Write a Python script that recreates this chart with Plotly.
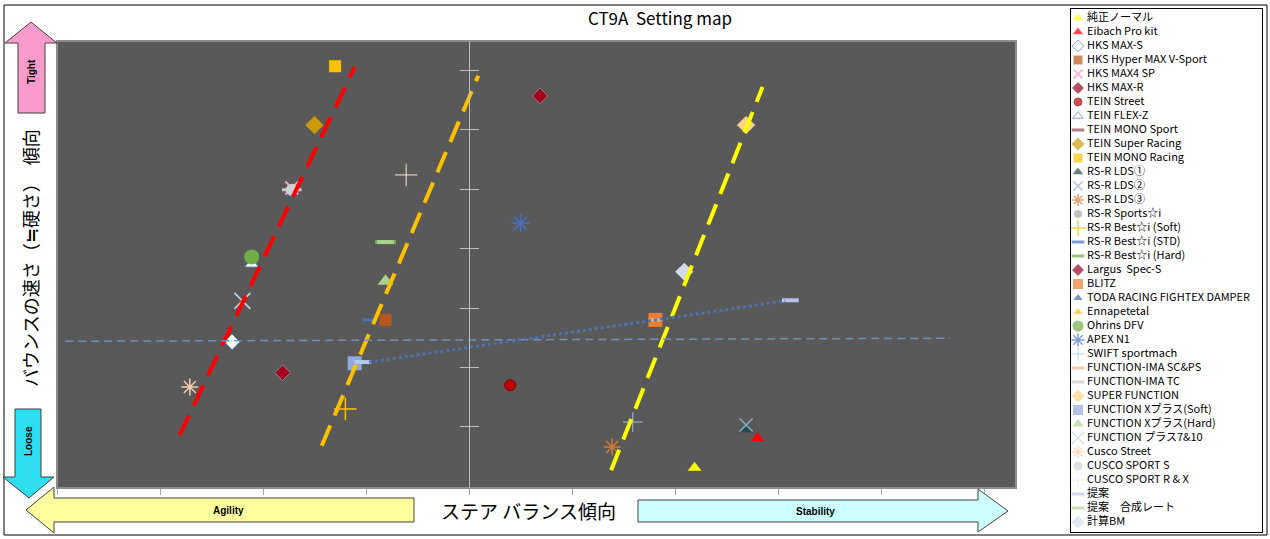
import plotly.graph_objects as go

W, H = 1270, 539
FONT = "Noto Sans CJK JP"

# series, in legend order
SERIES = [
    "純正ノーマル", "Eibach Pro kit", "HKS MAX-S", "HKS Hyper MAX V-Sport", "HKS MAX4 SP",
    "HKS MAX-R", "TEIN Street", "TEIN FLEX-Z", "TEIN MONO Sport", "TEIN Super Racing",
    "TEIN MONO Racing", "RS-R LDS①", "RS-R LDS②", "RS-R LDS③", "RS-R Sports☆i",
    "RS-R Best☆i (Soft)", "RS-R Best☆i (STD)", "RS-R Best☆i (Hard)", "Largus\u00a0 Spec-S",
    "BLITZ", "TODA RACING FIGHTEX DAMPER", "Ennapetetal", "Ohrins DFV", "APEX N1",
    "SWIFT sportmach", "FUNCTION-IMA SC&PS", "FUNCTION-IMA TC", "SUPER FUNCTION",
    "FUNCTION Xプラス(Soft)", "FUNCTION Xプラス(Hard)", "FUNCTION プラス7&10", "Cusco Street",
    "CUSCO SPORT S", "CUSCO SPORT R & X", "提案", "提案　合成レート", "計算BM",
]

# steer balance (x) and bounce speed (y)
SERIES_X = [
    [2.19], [2.80], [-2.30], [-0.81], [-1.72],
    [0.69], [0.40], [-2.11], [-1.72], [-1.50],
    [-1.30], [2.69], [2.69], [1.39], [-1.72],
    [-1.20], [-0.98], [-0.81], [-1.81],
    [1.81], [-1.72], [-1.30], [-2.11], [0.50],
    [1.59], [1.81], [-1.72], [2.69],
    [-1.11], [-0.81], [-2.20], [-2.71],
    [-1.72], [-0.61], [-1.03, 3.12], [-0.81], [2.09],
]
SERIES_Y = [
    [-2.69], [-2.19], [-0.57], [-0.20], [2.02],
    [3.57], [-1.30], [0.74], [1.99], [3.08],
    [4.07], [-2.04], [-1.97], [-2.34], [1.99],
    [-1.70], [-0.20], [1.11], [-1.09],
    [-0.20], [1.92], [4.07], [0.86], [1.43],
    [-1.92], [-0.20], [1.99], [3.08],
    [-0.93], [0.45], [0.12], [-1.33],
    [1.99], [2.24], [-0.91, 0.13], [1.11], [0.61],
]

# trend lines (start / end)
TREND_X = [[-2.81, -1.11], [-1.43, 0.09], [1.38, 2.85], [-3.92, 4.67], [-0.97, 3.07]]
TREND_Y = [[-2.14, 4.06], [-2.32, 3.91], [-2.73, 3.72], [-0.56, -0.51], [-0.91, 0.12]]

X_TICKS = [-4, -3, -2, -1, 0, 1, 2, 3, 4, 5]
Y_TICKS = [-2, -1, 0, 1, 2, 3, 4]

# marker styles: symbol, colour, outline colour, outline width, size
STYLE = {
    "純正ノーマル": ("triangle-up", "#FFFF00", None, 0, 12),
    "Eibach Pro kit": ("triangle-up", "#FF0000", None, 0, 12),
    "HKS MAX-S": ("diamond", "#FFFFFF", "#4F81BD", 1, 12),
    "HKS Hyper MAX V-Sport": ("square", "#B8561B", None, 0, 12),
    "HKS MAX4 SP": ("x-thin-open", "#FF99CC", None, 2, 13),
    "HKS MAX-R": ("diamond", "#A50021", "#8C8C8C", 1, 12),
    "TEIN Street": ("circle", "#C00000", "#7F0000", 1, 11),
    "TEIN FLEX-Z": ("triangle-up", "#FFFFFF", "#4F81BD", 1, 12),
    "TEIN MONO Sport": ("line-ew-open", "#8B4A4A", None, 3, 12),
    "TEIN Super Racing": ("diamond", "#CC9A06", None, 0, 14),
    "TEIN MONO Racing": ("square", "#FFC000", None, 0, 12),
    "RS-R LDS①": ("triangle-up", "#1F4D4A", None, 0, 12),
    "RS-R LDS②": ("x-thin-open", "#8EA9C8", None, 1.5, 13),
    "RS-R LDS③": ("asterisk-open", "#D2773A", None, 1.5, 14),
    "RS-R Sports☆i": ("circle", "#A5A5A5", None, 0, 11),
    "RS-R Best☆i (Soft)": ("cross-thin-open", "#FFC000", None, 1.5, 16),
    "RS-R Best☆i (STD)": ("line-ew-open", "#4472C4", None, 3, 8),
    "RS-R Best☆i (Hard)": ("line-ew-open", "#70AD47", None, 4, 15),
    "Largus\u00a0 Spec-S": ("diamond", "#A50021", "#8C8C8C", 1, 12),
    "BLITZ": ("square", "#ED7D31", None, 0, 14),
    "TODA RACING FIGHTEX DAMPER": ("triangle-up", "#3F6E9E", None, 0, 10),
    "Ennapetetal": ("triangle-up", "#FFC000", None, 0, 11),
    "Ohrins DFV": ("circle", "#70AD47", None, 0, 15),
    "APEX N1": ("asterisk-open", "#4472C4", None, 1.5, 15),
    "SWIFT sportmach": ("cross-thin-open", "#9DC3E6", None, 1, 14),
    "FUNCTION-IMA SC&PS": ("line-ew-open", "#F4B183", None, 3, 10),
    "FUNCTION-IMA TC": ("line-ew-open", "#C9C9C9", None, 3, 14),
    "SUPER FUNCTION": ("diamond", "#FFD08A", None, 0, 14),
    "FUNCTION Xプラス(Soft)": ("square", "#8FAADC", None, 0, 14),
    "FUNCTION Xプラス(Hard)": ("triangle-up", "#A9D18E", None, 0, 14),
    "FUNCTION プラス7&10": ("x-thin-open", "#C5D3E8", None, 1.5, 16),
    "Cusco Street": ("asterisk-open", "#F8CBAD", None, 1.5, 14),
    "CUSCO SPORT S": ("circle", "#D0D0D0", None, 0, 12),
    "CUSCO SPORT R & X": ("cross-thin-open", "#FFE6C2", None, 1, 16),
    "提案": ("line-ew-open", "#B4C7E7", None, 4, 12),
    "提案　合成レート": ("line-ew-open", "#A9D18E", None, 4, 12),
    "計算BM": ("diamond", "#D0DCEC", None, 0, 14),
}

TREND_STYLE = [
    dict(color="#FF0000", width=4, dash="22px,11px"),
    dict(color="#FFC000", width=4, dash="22px,11px"),
    dict(color="#FFFF00", width=4, dash="22px,11px"),
    dict(color="#6E8FBF", width=1.5, dash="8px,5px"),
    dict(color="#4A74B0", width=3, dash="3px,3px"),
]


def px(x):
    return x / W


def py(y):
    return 1 - y / H


def path(points):
    s = "M " + " L ".join(f"{px(a):.5f},{py(b):.5f}" for a, b in points)
    return s + " Z"


fig = go.Figure()

# data points
for name, xs, ys in zip(SERIES, SERIES_X, SERIES_Y):
    sym, col, lcol, lw, size = STYLE[name]
    fig.add_trace(go.Scatter(
        x=xs, y=ys, mode="markers", name=name, showlegend=False,
        marker=dict(symbol=sym, size=size, color=col,
                    line=dict(color=lcol or col, width=lw)),
    ))

# trend lines, drawn on the overlay axis so they sit above the markers
for tx, ty, st in zip(TREND_X, TREND_Y, TREND_STYLE):
    fig.add_trace(go.Scatter(
        x=tx, y=ty, mode="lines", line=st, showlegend=False,
        hoverinfo="skip", xaxis="x", yaxis="y4",
    ))

# hand-made legend (plotly's own one is too tall for 37 entries)
idx = list(range(len(SERIES)))


def leg_size(name):
    sym, size = STYLE[name][0], STYLE[name][4]
    if sym.startswith("line-ew"):
        return 9
    return max(8, round(size * 0.72))


fig.add_trace(go.Scatter(
    x=[7] * len(SERIES), y=idx, mode="markers", showlegend=False, hoverinfo="skip",
    xaxis="x3", yaxis="y3",
    marker=dict(
        symbol=[STYLE[n][0] for n in SERIES],
        color=[STYLE[n][1] for n in SERIES],
        size=[leg_size(n) for n in SERIES],
        line=dict(color=[STYLE[n][2] or STYLE[n][1] for n in SERIES],
                  width=[min(STYLE[n][3], 3) for n in SERIES]),
    ),
))
fig.add_trace(go.Scatter(
    x=[16] * len(SERIES), y=idx, mode="text", text=SERIES, textposition="middle right",
    textfont=dict(size=11, color="black", family=FONT),
    showlegend=False, hoverinfo="skip", xaxis="x3", yaxis="y3",
))

x_range = [(57 - 469) / 103, (1016 - 469) / 103]
y_range = [(308 - 488) / 59.4, (308 - 41) / 59.4]
x_dom = [px(57), px(1016)]
y_dom = [py(488), py(41)]

shapes = [
    # plot area
    dict(type="rect", xref="x domain", yref="y domain", x0=0, x1=1, y0=0, y1=1,
         fillcolor="#595959", line=dict(color="#8C8C8C", width=2), layer="below"),
    # outer chart border
    dict(type="rect", xref="paper", yref="paper", x0=px(4), x1=px(1267), y0=py(535), y1=py(5),
         line=dict(color="black", width=1)),
    # Tight arrow (up)
    dict(type="path", xref="paper", yref="paper",
         path=path([(31, 22), (57, 43), (45, 43), (45, 113), (18, 113), (18, 43), (5, 43)]),
         fillcolor="#F99CCB", line=dict(color="#404040", width=1)),
    # Loose arrow (down)
    dict(type="path", xref="paper", yref="paper",
         path=path([(15, 409), (41, 409), (41, 477), (54, 477), (29, 498), (3, 477), (15, 477)]),
         fillcolor="#2DDDF0", line=dict(color="#404040", width=1)),
    # Agility arrow (left)
    dict(type="path", xref="paper", yref="paper",
         path=path([(26, 510), (54, 487), (54, 498), (414, 498), (414, 522), (54, 522), (54, 533)]),
         fillcolor="#FFFF9E", line=dict(color="#404040", width=1)),
    # Stability arrow (right)
    dict(type="path", xref="paper", yref="paper",
         path=path([(638, 500), (978, 500), (978, 489), (1008, 511), (978, 532), (978, 522), (638, 522)]),
         fillcolor="#CCFFFF", line=dict(color="#404040", width=1)),
]

bold = dict(size=10, color="black", family="Liberation Sans")
annotations = [
    dict(text="<b>Tight</b>", x=px(31), y=py(72), textangle=-90, font=bold),
    dict(text="<b>Loose</b>", x=px(28), y=py(441), textangle=-90, font=bold),
    dict(text="<b>Agility</b>", x=px(228), y=py(510), font=bold),
    dict(text="<b>Stability</b>", x=px(815), y=py(511), font=bold),
    dict(text="ステア バランス傾向", x=px(528), y=py(510),
         font=dict(size=19, color="black", family=FONT)),
    dict(text="バウンスの速さ（≒硬さ）　傾向", x=px(30), y=py(258), textangle=-90,
         font=dict(size=18, color="black", family=FONT)),
]
for a in annotations:
    a.update(xref="paper", yref="paper", showarrow=False, xanchor="center", yanchor="middle")

fig.update_layout(
    width=W, height=H, autosize=False,
    margin=dict(l=0, r=0, t=0, b=0),
    paper_bgcolor="white", plot_bgcolor="white",
    font=dict(family=FONT, color="black"),
    title=dict(text="CT9A\u00a0 Setting map", x=px(660), y=py(19), xanchor="center",
               yanchor="middle", font=dict(size=17, color="black", family=FONT)),
    xaxis=dict(domain=x_dom, range=x_range, tickvals=X_TICKS, ticks="outside", ticklen=6,
               tickcolor="#A6A6A6", showticklabels=False, showgrid=False, zeroline=False,
               showline=False, anchor="y", fixedrange=True),
    yaxis=dict(domain=y_dom, range=y_range, tickvals=Y_TICKS, ticks="outside", ticklen=9,
               tickcolor="#BFBFBF", showticklabels=False, showgrid=False, zeroline=False,
               showline=True, linecolor="#BFBFBF", linewidth=1, anchor="free",
               position=px(469), fixedrange=True),
    yaxis4=dict(overlaying="y", range=y_range, tickvals=Y_TICKS, ticks="inside", ticklen=9,
                tickcolor="#BFBFBF", showticklabels=False, showgrid=False, zeroline=False,
                showline=False, anchor="free", position=px(469), fixedrange=True),
    xaxis3=dict(domain=[px(1071), px(1262)], range=[0, 191], anchor="y3", showline=True,
                mirror=True, linecolor="black", linewidth=1, showticklabels=False,
                showgrid=False, zeroline=False, ticks="", fixedrange=True),
    yaxis3=dict(domain=[py(532), py(9)], range=[(532 - 18) / 14, (9 - 18) / 14], anchor="x3",
                showline=True, mirror=True, linecolor="black", linewidth=1,
                showticklabels=False, showgrid=False, zeroline=False, ticks="",
                fixedrange=True),
    shapes=shapes,
    annotations=annotations,
)

# the page body has a default 8px margin; drop it so the chart fills the window
fig.write_html("out.html", config={"displayModeBar": False},
               post_script="document.body.style.margin='0px';")
